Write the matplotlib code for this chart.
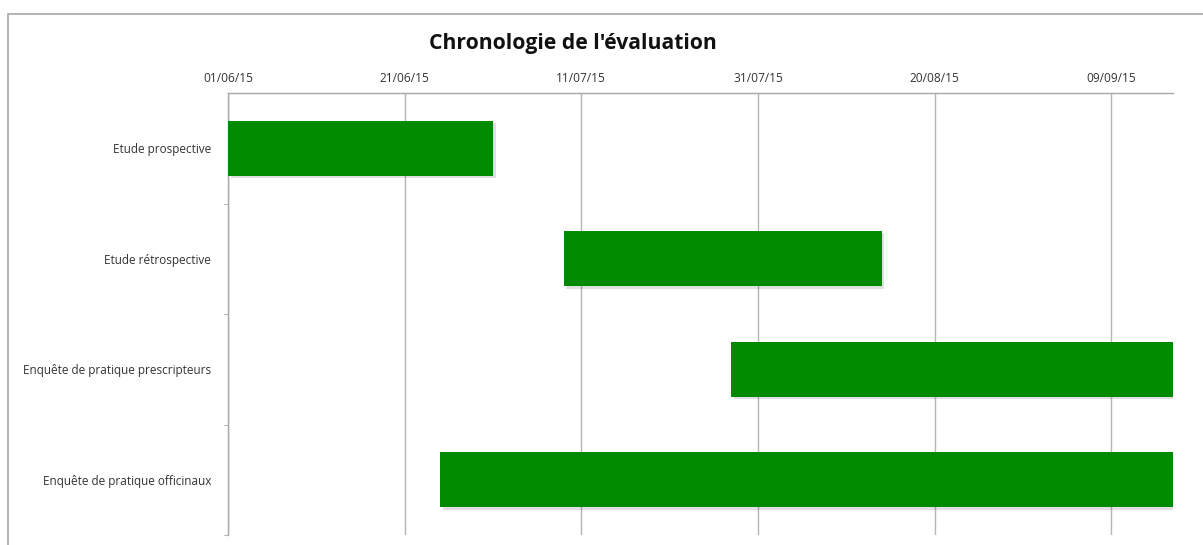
import datetime as dt
import matplotlib
matplotlib.use("Agg")
import matplotlib.pyplot as plt
import matplotlib.dates as mdates
from matplotlib.patches import Rectangle

plt.rcParams['font.family'] = ['Open Sans', 'DejaVu Sans']

# Data
tasks = ["Etude prospective", "Etude rétrospective",
         "Enquête de pratique prescripteurs", "Enquête de pratique officinaux"]
starts = ["2015-06-01", "2015-07-09", "2015-07-28", "2015-06-25"]
ends = ["2015-07-01", "2015-08-14", "2015-09-16", "2015-09-16"]
tick_dates = ["2015-06-01", "2015-06-21", "2015-07-11", "2015-07-31",
              "2015-08-20", "2015-09-09"]
x_min, x_max = "2015-06-01", "2015-09-16"

def d(s):
    return mdates.date2num(dt.datetime.strptime(s, "%Y-%m-%d"))

fig = plt.figure(figsize=(12.03, 5.45), dpi=100)
ax = fig.add_axes([228 / 1203, 1 - 535 / 545, (1173 - 228) / 1203, (535 - 93) / 545])

# outer frame like the spreadsheet chart area
fig.patches.append(Rectangle((8 / 1203, -0.05), 1.2, 1 - 14 / 545 + 0.05,
                             transform=fig.transFigure, fill=False,
                             edgecolor="#a8a8a8", lw=1.2))

green = "#008a00"
for i, (s, e) in enumerate(zip(starts, ends)):
    # soft shadow
    ax.barh(i + 0.02, d(e) - d(s), left=d(s) + 0.3, height=0.5,
            color="#000000", alpha=0.12, zorder=2, lw=0)
    ax.barh(i, d(e) - d(s), left=d(s), height=0.5, color=green,
            zorder=3, lw=0)

ax.set_xlim(d(x_min), d(x_max))
ax.set_ylim(3.5, -0.5)
ax.xaxis.tick_top()
ax.set_xticks([d(t) for t in tick_dates])
ax.xaxis.set_major_formatter(mdates.DateFormatter("%d/%m/%y"))
ax.tick_params(axis="x", length=0, pad=6, labelsize=8.6, colors="#333333")
ax.grid(axis="x", color="#b5b5b5", lw=1, zorder=1)

ax.set_yticks(range(len(tasks)))
ax.set_yticklabels(tasks)
ax.set_yticks([0.5, 1.5, 2.5, 3.5], minor=True)
ax.tick_params(axis="y", which="major", length=0, pad=12, labelsize=8.5, colors="#333333")
ax.tick_params(axis="y", which="minor", length=3, color="#a0a0a0")

for side in ["right", "bottom"]:
    ax.spines[side].set_visible(False)
for side in ["left", "top"]:
    ax.spines[side].set_color("#a8a8a8")
    ax.spines[side].set_linewidth(1)

fig.text(573 / 1203, 1 - 43 / 545, "Chronologie de l'évaluation",
         ha="center", va="center", fontsize=15.2, fontweight="bold", color="#111111")

fig.savefig("out.png", dpi=100)
